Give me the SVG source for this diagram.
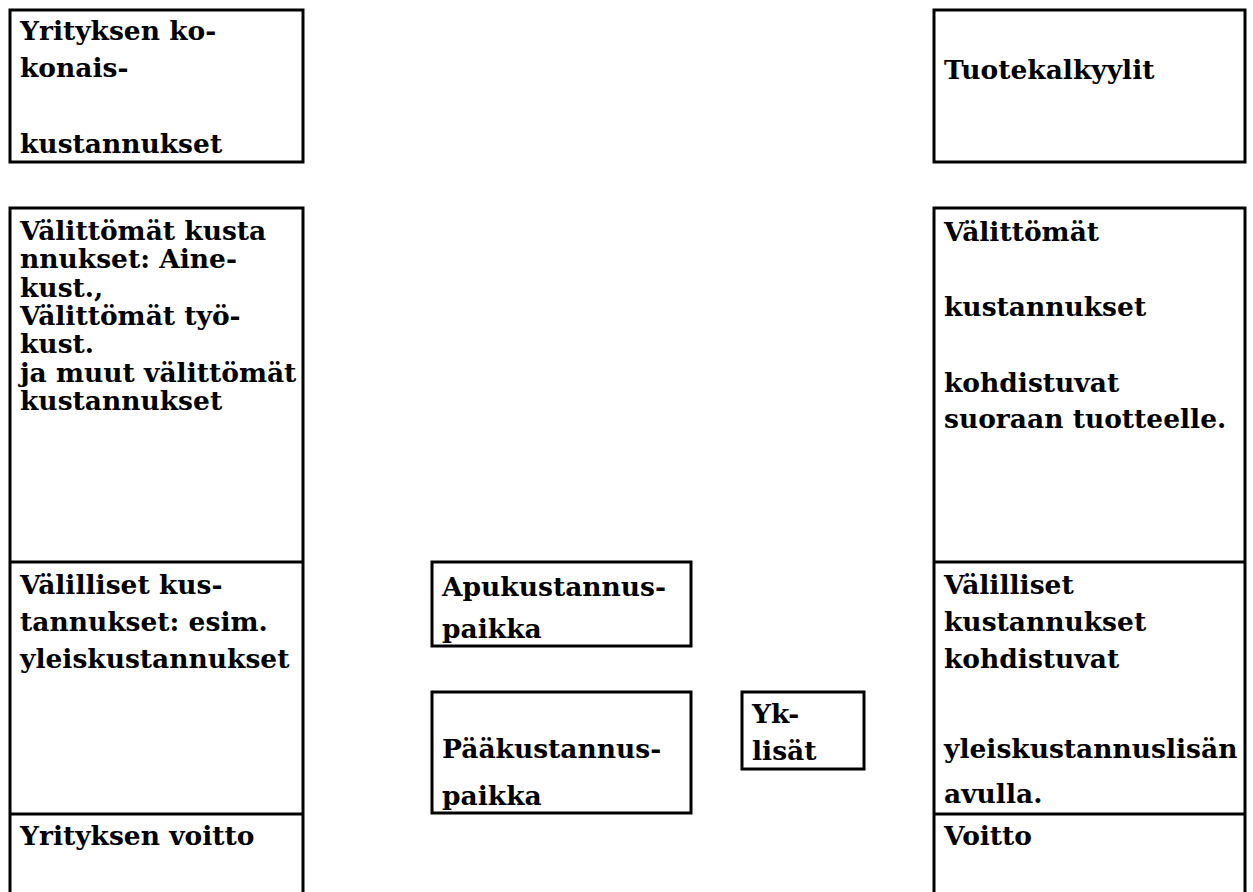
<svg xmlns="http://www.w3.org/2000/svg" width="1253" height="892" viewBox="0 0 1253 892">
<style>
.box{fill:#fff;stroke:#000;stroke-width:3}
.div{stroke:#000;stroke-width:3}
text{font-family:"DejaVu Serif","Liberation Serif",serif;font-weight:bold;font-size:26.5px;fill:#000}
</style>
<rect width="1253" height="892" fill="#fff"/>
<g id="yrityksen-kokonaiskustannukset">
<rect class="box" x="10" y="10" width="293" height="152"/>
<text x="20" y="40">Yrityksen ko-</text>
<text x="20" y="77">konais-</text>
<text x="20" y="153">kustannukset</text>
</g>
<g id="tuotekalkyylit">
<rect class="box" x="934" y="10" width="311" height="152"/>
<text x="944" y="79">Tuotekalkyylit</text>
</g>
<g id="left-column">
<rect class="box" x="10" y="208" width="293" height="700"/>
<line class="div" x1="10" y1="562" x2="303" y2="562"/>
<line class="div" x1="10" y1="814" x2="303" y2="814"/>
</g>
<g id="valittomat-kustannukset">
<text x="20" y="240">Välittömät kusta</text>
<text x="20" y="268">nnukset: Aine-</text>
<text x="20" y="297">kust.,</text>
<text x="20" y="325">Välittömät työ-</text>
<text x="20" y="353">kust.</text>
<text x="20" y="382">ja muut välittömät</text>
<text x="20" y="410">kustannukset</text>
</g>
<g id="valilliset-kustannukset">
<text x="20" y="594">Välilliset kus-</text>
<text x="20" y="631">tannukset: esim.</text>
<text x="20" y="668">yleiskustannukset</text>
</g>
<g id="yrityksen-voitto">
<text x="20" y="845">Yrityksen voitto</text>
</g>
<g id="right-column">
<rect class="box" x="934" y="208" width="311" height="700"/>
<line class="div" x1="934" y1="562" x2="1245" y2="562"/>
<line class="div" x1="934" y1="814" x2="1245" y2="814"/>
</g>
<g id="valittomat-tuote">
<text x="944" y="241">Välittömät</text>
<text x="944" y="316">kustannukset</text>
<text x="944" y="392">kohdistuvat</text>
<text x="944" y="428">suoraan tuotteelle.</text>
</g>
<g id="valilliset-tuote">
<text x="944" y="594">Välilliset</text>
<text x="944" y="631">kustannukset</text>
<text x="944" y="668">kohdistuvat</text>
<text x="944" y="758">yleiskustannuslisän</text>
<text x="944" y="803">avulla.</text>
</g>
<g id="voitto">
<text x="944" y="845">Voitto</text>
</g>
<g id="apukustannuspaikka">
<rect class="box" x="432" y="562" width="259" height="84"/>
<text x="442" y="596">Apukustannus-</text>
<text x="442" y="638">paikka</text>
</g>
<g id="paakustannuspaikka">
<rect class="box" x="432" y="692" width="259" height="121"/>
<text x="442" y="758">Pääkustannus-</text>
<text x="442" y="805">paikka</text>
</g>
<g id="yk-lisat">
<rect class="box" x="742" y="692" width="122" height="77"/>
<text x="752" y="723">Yk-</text>
<text x="752" y="760">lisät</text>
</g>
<g id="connectors"></g>
</svg>
